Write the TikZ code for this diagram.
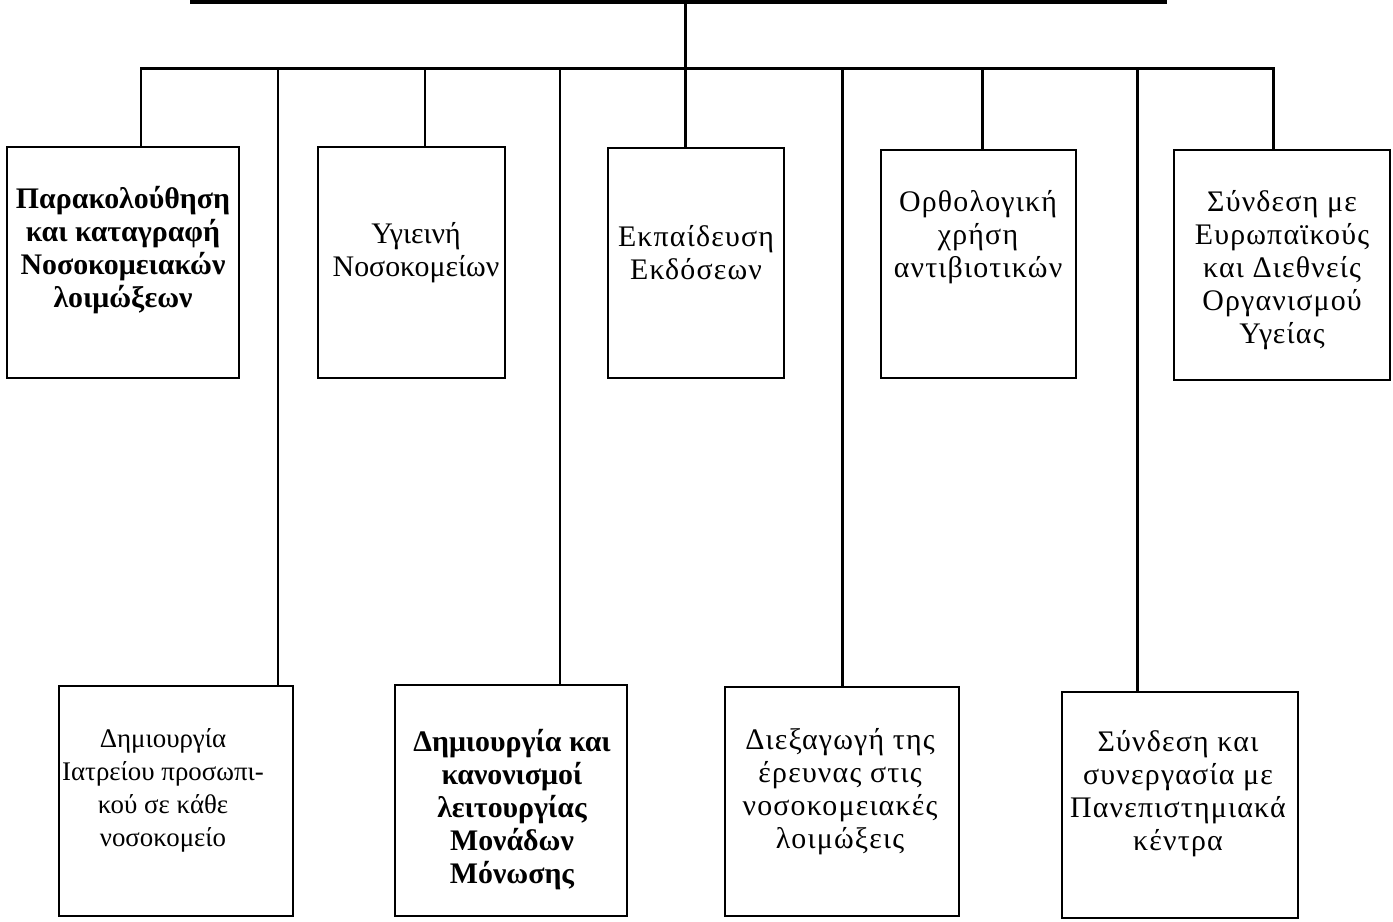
\documentclass[tikz,border=0pt]{standalone}
\usepackage{fontspec}
\setmainfont{Liberation Serif}
\usetikzlibrary{positioning, calc}

\begin{document}
\begin{tikzpicture}[x=0.02cm, y=-0.02cm,
    box/.style={draw, line width=0.8pt, inner sep=0pt},
    txt/.style={align=center, font=\fontsize{17}{18.8}\selectfont\addfontfeature{LetterSpace=4}},
    btxt/.style={align=center, font=\fontsize{17}{18.8}\selectfont\bfseries},
    wire/.style={line width=1.7pt}]

      \useasboundingbox (0,0) rectangle (1393,921);

      % boxes of the upper row
      \node[box, minimum width=4.64cm, minimum height=4.62cm] (t1) at (123,262.5) {};
      \node[box, minimum width=3.74cm, minimum height=4.62cm] (t2) at (411.5,262.5) {};
      \node[box, minimum width=3.52cm, minimum height=4.6cm] (t3) at (696,263) {};
      \node[box, minimum width=3.9cm, minimum height=4.56cm] (t4) at (978.5,264) {};
      \node[box, minimum width=4.32cm, minimum height=4.6cm] (t5) at (1282,265) {};

      % boxes of the lower row
      \node[box, minimum width=4.68cm, minimum height=4.6cm] (bb1) at (176,801) {};
      \node[box, minimum width=4.64cm, minimum height=4.62cm] (bb2) at (511,800.5) {};
      \node[box, minimum width=4.68cm, minimum height=4.58cm] (bb3) at (842,801.5) {};
      \node[box, minimum width=4.72cm, minimum height=4.52cm] (bb4) at (1180,805) {};

      \node[btxt] (t1txt) at (123,250) {Παρακολούθηση\\και καταγραφή\\Νοσοκομειακών\\λοιμώξεων};
      \node[txt, font=\fontsize{17}{18.8}\selectfont] (t2txt) at (416,253) {Υγιεινή\\Νοσοκομείων};
      \node[txt] (t3txt) at (696,253) {Εκπαίδευση\\Εκδόσεων};
      \node[txt] (t4txt) at (978,237) {Ορθολογική\\χρήση\\αντιβιοτικών};
      \node[txt] (t5txt) at (1282,270) {Σύνδεση με\\Ευρωπαϊκούς\\και Διεθνείς\\Οργανισμού\\Υγείας};

      \node[txt, font=\fontsize{15.3}{18.8}\selectfont] (bb1txt) at (163,790) {Δημιουργία\\Ιατρείου προσωπι-\\κού σε κάθε\\νοσοκομείο};
      \node[btxt] (bb2txt) at (512,810) {Δημιουργία και\\κανονισμοί\\λειτουργίας\\Μονάδων\\Μόνωσης};
      \node[txt] (bb3txt) at (840,792) {Διεξαγωγή της\\έρευνας στις\\νοσοκομειακές\\λοιμώξεις};
      \node[txt] (bb4txt) at (1178,794) {Σύνδεση και\\συνεργασία με\\Πανεπιστημιακά\\κέντρα};

      % top bar and bus
      \coordinate (topL) at (190,2);
      \coordinate (topR) at (1167,2);
      \coordinate (topC) at (685,2);
      \draw[line width=2.4pt] (topL) -- (topR);

      \coordinate (b1) at (141,68);
      \coordinate (b2) at (278,68);
      \coordinate (b3) at (425,68);
      \coordinate (b4) at (560,68);
      \coordinate (b5) at (685,68);
      \coordinate (b6) at (842,68);
      \coordinate (b7) at (982,68);
      \coordinate (b8) at (1137,68);
      \coordinate (b9) at (1273,68);

      \draw[wire] (topC) -- (b5);
      \draw[wire] (b1 |- t1.north) -- (b1) -- (b9) -- (b9 |- t5.north);
      \draw[wire] (b3) -- (b3 |- t2.north);
      \draw[wire] (b5) -- (b5 |- t3.north);
      \draw[wire] (b7) -- (b7 |- t4.north);

      \draw[wire] (b2) -- (b2 |- bb1.north);
      \draw[wire] (b4) -- (b4 |- bb2.north);
      \draw[wire] (b6) -- (b6 |- bb3.north);
      \draw[wire] (b8) -- (b8 |- bb4.north);
    \end{tikzpicture}
\end{document}
